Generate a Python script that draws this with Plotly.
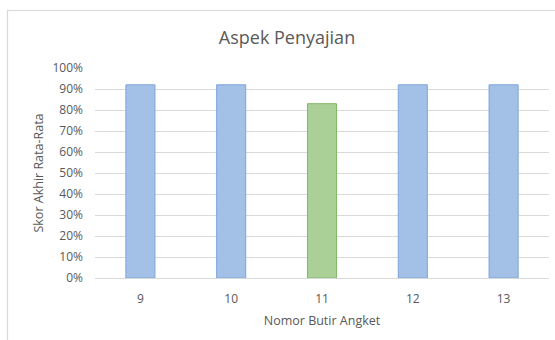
import plotly.graph_objects as go

categories = ["9", "10", "11", "12", "13"]
values = [0.92, 0.92, 0.83, 0.92, 0.92]
fill_colors = ["#a3c1e7", "#a3c1e7", "#aacf97", "#a3c1e7", "#a3c1e7"]
line_colors = ["#7ba4d9", "#7ba4d9", "#7fb865", "#7ba4d9", "#7ba4d9"]
tick_vals = [0, 0.1, 0.2, 0.3, 0.4, 0.5, 0.6, 0.7, 0.8, 0.9, 1.0]

W, H = 555, 340
ml, mr, mt, mb = 95, 6, 68, 62

fig = go.Figure(go.Bar(
    x=categories, y=values,
    marker=dict(color=fill_colors, line=dict(color=line_colors, width=1)),
    width=0.32,
))

pw = W - ml - mr
ph = H - mt - mb
def px2paper_x(p):
    return (p - ml) / pw
def px2paper_y(p):
    return 1 - (p - mt) / ph

fig.add_shape(type="rect", xref="paper", yref="paper",
              x0=px2paper_x(7.5), x1=px2paper_x(560),
              y0=px2paper_y(350), y1=px2paper_y(10.5),
              line=dict(color="#d9d9d9", width=1.2), fillcolor="rgba(0,0,0,0)",
              layer="below")

fig.update_layout(
    width=W, height=H,
    margin=dict(l=ml, r=mr, t=mt, b=mb),
    paper_bgcolor="white", plot_bgcolor="white",
    showlegend=False,
    font=dict(family="Open Sans, sans-serif", color="#595959", size=12),
    title=dict(text="Aspek Penyajian", x=287 / W, xref="container", xanchor="center",
               y=1 - 38 / H, yanchor="middle",
               font=dict(size=18, color="#595959", family="Open Sans, sans-serif")),
    xaxis=dict(
        showgrid=False, showline=False, zeroline=False, ticks="",
        tickfont=dict(size=12, color="#595959"), ticklabelstandoff=12,
        title=dict(text="Nomor Butir Angket", font=dict(size=12.5, color="#595959"), standoff=10),
    ),
    yaxis=dict(
        range=[0, 1.0], tickvals=tick_vals, tickformat=".0%",
        showgrid=True, gridcolor="#d9d9d9", gridwidth=1,
        zeroline=True, zerolinecolor="#d9d9d9", zerolinewidth=1,
        showline=False, ticks="", ticklabelstandoff=11,
        tickfont=dict(size=12, color="#595959"),
        title=dict(text="Skor Akhir Rata-Rata", font=dict(size=12.5, color="#595959"), standoff=6),
    ),
)

fig.write_html("out.html")
